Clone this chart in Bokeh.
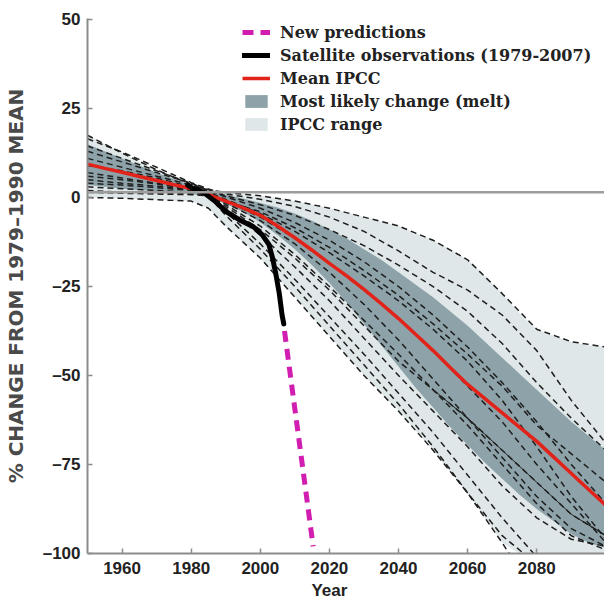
from bokeh.plotting import figure
from bokeh.models import Legend, LegendItem, Span, FixedTicker, Range1d
from bokeh.embed import file_html
from bokeh.resources import INLINE

# ---------------- data ----------------
YEARS = [1950, 1955, 1960, 1965, 1970, 1975, 1980, 1985, 1990, 1995, 2000, 2005, 2010, 2015,
         2020, 2025, 2030, 2035, 2040, 2045, 2050, 2055, 2060, 2065, 2070, 2075, 2080, 2085,
         2090, 2095, 2100]

MEAN_IPCC = [9.4, 8.2, 7.1, 5.9, 4.8, 3.6, 2.5, 0.8, -1.0, -2.9, -5.0, -8.0, -11.3, -14.8,
             -18.5, -22.0, -25.8, -29.8, -34.0, -38.5, -43.0, -47.8, -52.5, -56.5, -60.5, -64.5,
             -68.5, -73.0, -77.5, -82.0, -86.5]

LIKELY_UPPER = [15.0, 13.0, 11.0, 9.0, 7.0, 5.2, 3.4, 1.8, 0.8, -0.3, -1.5, -2.8, -4.5, -6.5,
                -9.0, -11.5, -14.5, -17.5, -21.0, -24.5, -28.0, -32.0, -36.0, -40.5, -45.0, -49.5,
                -54.0, -58.5, -63.0, -67.0, -71.0]
LIKELY_LOWER = [3.5, 3.0, 2.5, 2.1, 1.8, 1.4, 1.0, 0.3, -1.8, -4.0, -7.0, -10.5, -14.5, -19.0,
                -24.0, -29.5, -35.5, -41.5, -47.5, -53.5, -59.0, -64.5, -69.5, -74.5, -79.0, -83.5,
                -87.5, -91.0, -94.5, -97.0, -98.5]

RANGE_UPPER = [17.5, 15.0, 12.5, 10.0, 7.8, 5.6, 3.6, 2.2, 1.4, 0.9, 0.5, -0.2, -1.0, -2.0,
               -3.0, -4.2, -5.5, -6.8, -8.0, -10.0, -12.0, -14.5, -17.5, -22.0, -27.0, -32.5,
               -37.0, -39.0, -40.5, -41.5, -42.0]
RANGE_LOWER = [0.0, 0.0, -0.2, -0.4, -0.6, -0.8, -1.0, -3.0, -8.0, -12.5, -17.0, -22.5, -28.0,
               -33.5, -39.0, -44.5, -50.0, -55.0, -60.0, -65.5, -71.0, -77.0, -83.0, -90.0, -97.0,
               -100.0, -100.0, -100.0, -100.0, -100.0, -100.0]

MODEL_YEARS = [1950, 1960, 1970, 1980, 1985, 1990, 2000, 2010, 2020, 2030, 2040, 2050, 2060,
               2070, 2080, 2090, 2100]
MODEL_01 = [17.5, 12.5, 7.8, 3.6, 2.2, 1.4, 0.5, -1.0, -3.0, -5.5, -8.0, -12.0, -17.5, -27.0, -37.0, -40.5, -42.0]
MODEL_02 = [16.5, 12.8, 8.5, 4.2, 2.4, 1.0, -0.5, -2.5, -5.5, -9.5, -15.0, -21.0, -26.0, -33.0, -43.0, -57.0, -69.0]
MODEL_03 = [14.5, 11.0, 7.5, 4.0, 2.0, 0.5, -2.0, -5.0, -9.0, -13.5, -19.0, -25.0, -32.0, -41.0, -52.0, -62.0, -71.0]
MODEL_04 = [13.0, 10.0, 7.0, 4.0, 1.8, 0.2, -3.0, -7.0, -12.0, -18.0, -25.0, -33.0, -42.0, -52.0, -63.0, -75.0, -86.0]
MODEL_05 = [11.0, 8.5, 6.0, 3.5, 1.5, -0.5, -4.5, -9.5, -15.5, -22.0, -29.0, -37.0, -46.0, -57.0, -70.0, -84.0, -96.0]
MODEL_06 = [9.0, 7.5, 5.5, 3.0, 1.5, -1.0, -5.5, -11.5, -18.5, -26.0, -34.0, -43.0, -53.0, -63.0, -75.0, -86.0, -97.0]
MODEL_07 = [7.0, 5.5, 4.0, 2.5, 1.2, -1.5, -6.5, -13.0, -21.0, -30.0, -40.0, -51.0, -62.0, -73.0, -84.0, -93.0, -98.0]
MODEL_08 = [6.0, 5.0, 3.8, 2.3, 1.0, -2.0, -8.0, -16.0, -25.0, -34.5, -44.0, -54.0, -64.0, -75.0, -86.0, -95.0, -99.0]
MODEL_09 = [4.0, 3.5, 2.8, 2.0, 1.0, -2.5, -9.0, -17.0, -26.0, -36.0, -46.0, -54.0, -62.0, -71.0, -80.0, -89.0, -95.0]
MODEL_10 = [3.0, 2.5, 2.0, 1.5, 0.8, -3.0, -10.5, -19.5, -29.0, -39.5, -50.0, -60.0, -70.0, -81.0, -90.0, -96.0, -98.0]
MODEL_11 = [1.5, 1.2, 1.0, 0.8, 0.5, -4.0, -13.0, -23.0, -33.5, -44.0, -55.0, -66.0, -78.0, -90.0, -101.0, -108.0, -112.0]
MODEL_12 = [0.0, -0.2, -0.6, -1.0, -3.0, -8.0, -17.0, -28.0, -39.0, -50.0, -60.0, -71.0, -83.0, -97.0, -112.0, -125.0, -135.0]
MODEL_13 = [2.0, 1.5, 1.2, 1.0, 0.5, -5.0, -14.5, -25.0, -36.0, -47.0, -58.0, -70.0, -83.0, -95.0, -103.0, -110.0, -115.0]
MODEL_14 = [5.0, 4.0, 3.2, 2.2, 1.2, -1.0, -4.0, -8.5, -14.0, -20.5, -27.5, -35.5, -44.0, -53.0, -64.0, -72.0, -80.0]
MODELS = [MODEL_01, MODEL_02, MODEL_03, MODEL_04, MODEL_05, MODEL_06, MODEL_07,
          MODEL_08, MODEL_09, MODEL_10, MODEL_11, MODEL_12, MODEL_13, MODEL_14]

THIN_YEARS = [2050, 2060, 2070, 2080, 2090, 2100]
THIN_VALUES = [-54.0, -62.0, -71.0, -80.0, -89.0, -95.0]

SAT_YEARS = [1979, 1980.5, 1982, 1984, 1987, 1990, 1994, 1998, 2000.5, 2002.5, 2003.5,
             2004.5, 2005.5, 2006.3, 2006.8]
SAT_VALUES = [3.5, 2.5, 2.2, 1.1, -1.1, -3.9, -6.3, -8.2, -10.4, -13.2, -16.8, -21.5,
              -27.0, -33.0, -35.5]

NEW_YEARS = [2007, 2015.3]
NEW_VALUES = [-37.5, -98.0]

BASELINE = 1.5

X_TICKS = [1960, 1980, 2000, 2020, 2040, 2060, 2080]
X_TICK_LABELS = ["1960", "1980", "2000", "2020\nYear", "2040", "2060", "2080"]
Y_TICKS = [50, 25, 0, -25, -50, -75, -100]
Y_TICK_LABELS = ["50", "25", "0", "\u201325", "\u201350", "\u201375", "\u2013100"]

Y_TITLE = "% CHANGE FROM 1979\u20131990 MEAN"

LEGEND_LABELS = ["New predictions", "Satellite observations (1979-2007)", "Mean IPCC",
                 "Most likely change (melt)", "IPCC range"]

# ---------------- figure ----------------
W, H = 604, 605
TOP, BOTTOM, LEFT = 18, 52, 85

p = figure(width=W, height=H, output_backend="svg", toolbar_location=None,
           x_range=Range1d(1950, 2099.6), y_range=Range1d(-100, 50.3),
           min_border_left=LEFT, min_border_right=0, min_border_top=TOP,
           min_border_bottom=BOTTOM)
p.outline_line_color = None
p.grid.visible = False
p.background_fill_color = "white"
p.border_fill_color = "white"

light = p.varea(x=YEARS, y1=RANGE_LOWER, y2=RANGE_UPPER, fill_color="#dfe7e8")
dark = p.varea(x=YEARS, y1=LIKELY_LOWER, y2=LIKELY_UPPER, fill_color="#8da3a9")

p.add_layout(Span(location=BASELINE, dimension="width", line_color="#9c9c9c",
                  line_width=2.5))

for m in MODELS:
    p.line(MODEL_YEARS, m, line_color="#1e1e1e", line_width=1.5, line_dash="6 4")
p.line(THIN_YEARS, THIN_VALUES, line_color="#1e1e1e", line_width=1.0)

red = p.line(YEARS, MEAN_IPCC, line_color="#e2231a", line_width=3.5)
sat = p.line(SAT_YEARS, SAT_VALUES, line_color="black", line_width=5, line_cap="round",
             line_join="round")
new = p.line(NEW_YEARS, NEW_VALUES, line_color="#d21eb0", line_width=5, line_dash="11 7")

# axes
for ax in (p.xaxis[0], p.yaxis[0]):
    ax.axis_line_color = "#8c8c8c"
    ax.axis_line_width = 2
    ax.major_tick_line_color = "#8c8c8c"
    ax.major_tick_line_width = 1.5
    ax.major_tick_in = 5
    ax.major_tick_out = 0
    ax.minor_tick_line_color = None
    ax.major_label_text_font = "Liberation Sans"
    ax.major_label_text_font_style = "bold"
    ax.major_label_text_font_size = "17px"
    ax.major_label_text_color = "#222222"

p.xaxis.ticker = FixedTicker(ticks=X_TICKS)
p.yaxis.ticker = FixedTicker(ticks=Y_TICKS)
p.xaxis.major_label_overrides = {t: l for t, l in zip(X_TICKS, X_TICK_LABELS)}
p.yaxis.major_label_overrides = {t: l for t, l in zip(Y_TICKS, Y_TICK_LABELS)}
p.xaxis.major_label_standoff = 5
p.yaxis.major_label_standoff = 7

p.yaxis.axis_label = Y_TITLE
p.yaxis.axis_label_standoff = 12
p.yaxis.axis_label_text_font = "DejaVu Sans"
p.yaxis.axis_label_text_font_style = "bold"
p.yaxis.axis_label_text_font_size = "20px"
p.yaxis.axis_label_text_color = "#4a4a4a"

# legend
frame_h = H - TOP - BOTTOM
leg_h = 5 * 20 + 4 * 3
legend = Legend(
    items=[LegendItem(label=LEGEND_LABELS[0], renderers=[new]),
           LegendItem(label=LEGEND_LABELS[1], renderers=[sat]),
           LegendItem(label=LEGEND_LABELS[2], renderers=[red]),
           LegendItem(label=LEGEND_LABELS[3], renderers=[dark]),
           LegendItem(label=LEGEND_LABELS[4], renderers=[light])],
    location=(155, frame_h - 4 - leg_h),
    glyph_width=28, glyph_height=16, label_height=20, spacing=3,
    label_standoff=10, padding=0, margin=0,
    border_line_alpha=0, background_fill_alpha=0,
    label_text_font="DejaVu Serif", label_text_font_style="bold",
    label_text_font_size="16px", label_text_color="#222222")
p.add_layout(legend)

open("out.html", "w").write(file_html(p, INLINE))
